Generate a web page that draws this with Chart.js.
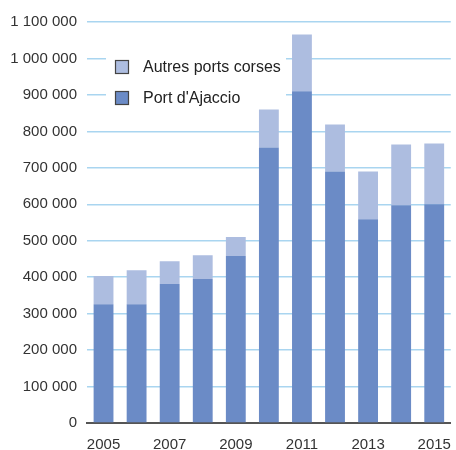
<!DOCTYPE html>
<html>
<head>
<meta charset="utf-8">
<script src="https://cdn.jsdelivr.net/npm/chart.js@4"></script>
<style>
  html, body { margin: 0; padding: 0; background: #fff; }
  canvas { display: block; }
</style>
</head>
<body>
<canvas id="passagersChart" width="456" height="450"></canvas>
<script>
// Années
const annees = ['2005', '2006', '2007', '2008', '2009', '2010', '2011', '2012', '2013', '2014', '2015'];
// Passagers - Port d'Ajaccio
const portAjaccio = [326000, 326000, 381000, 395000, 458000, 756000, 910000, 690000, 559000, 597000, 600000];
// Passagers - Autres ports corses (part empilée)
const autresPorts = [77000, 93000, 63000, 65000, 52000, 104000, 156000, 129000, 131000, 167000, 167000];
// Graduations de l'axe Y
const yMax = 1100000;
const yStep = 100000;

const police = '"Liberation Sans", Arial, sans-serif';

function formatNombre(v) {
    return String(v).replace(/\B(?=(\d{3})+(?!\d))/g, ' ');
}

// Légende dessinée à l'intérieur de la zone du graphique
const legendeInterne = {
    id: 'legendeInterne',
    beforeDatasetsDraw(chart) {
        const ctx = chart.ctx;
        const items = [
            { texte: 'Autres ports corses', couleur: '#adbde0' },
            { texte: "Port d'Ajaccio", couleur: '#6b8bc6' }
        ];
        ctx.save();
        ctx.fillStyle = '#fff';
        ctx.fillRect(106, 45, 180, 70);
        ctx.font = '16px ' + police;
        ctx.textBaseline = 'middle';
        items.forEach((it, i) => {
            const y = 60 + i * 31;
            ctx.fillStyle = it.couleur;
            ctx.fillRect(115.5, y + 0.5, 13, 13);
            ctx.strokeStyle = '#444';
            ctx.lineWidth = 1.2;
            ctx.strokeRect(115.5, y + 0.5, 13, 13);
            ctx.fillStyle = '#222';
            ctx.fillText(it.texte, 143, y + 8);
        });
        ctx.restore();
    }
};

const ctx = document.getElementById('passagersChart').getContext('2d');
const passagersChart = new Chart(ctx, {
    type: 'bar',
    data: {
        labels: annees,
        datasets: [
            {
                label: "Port d'Ajaccio",
                data: portAjaccio,
                backgroundColor: '#6b8bc6',
                borderWidth: 0
            },
            {
                label: 'Autres ports corses',
                data: autresPorts,
                backgroundColor: '#adbde0',
                borderWidth: 0
            }
        ]
    },
    options: {
        responsive: false,
        animation: false,
        devicePixelRatio: 1,
        layout: { padding: { top: 22, right: 2, left: 0, bottom: 0 } },
        plugins: {
            legend: { display: false },
            tooltip: { enabled: false }
        },
        datasets: {
            bar: { categoryPercentage: 1, barPercentage: 0.6 }
        },
        scales: {
            x: {
                stacked: true,
                grid: { display: false },
                border: { display: true, color: '#555', width: 2 },
                ticks: {
                    autoSkip: false,
                    maxRotation: 0,
                    color: '#333',
                    padding: 5,
                    font: { family: police, size: 15 },
                    callback: function (val, idx) { return idx % 2 === 0 ? this.getLabelForValue(val) : ''; }
                },
                afterFit: s => { s.height = 27; }
            },
            y: {
                stacked: true,
                min: 0,
                max: yMax,
                border: { display: false },
                grid: {
                    color: c => c.tick.value === 0 ? 'rgba(0,0,0,0)' : '#a9d5f0',
                    lineWidth: 1.5,
                    drawTicks: false
                },
                ticks: {
                    stepSize: yStep,
                    color: '#333',
                    padding: 10,
                    font: { family: police, size: 15 },
                    callback: v => formatNombre(v)
                },
                afterFit: s => { s.width = 87; }
            }
        }
    },
    plugins: [legendeInterne]
});
</script>
</body>
</html>
